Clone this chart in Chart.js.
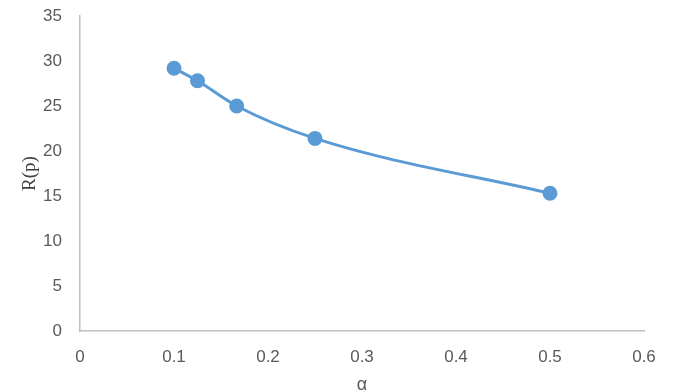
<!DOCTYPE html>
<html>
<head>
  <meta charset="UTF-8" />
  <title>R(p) vs α</title>
  <style>html, body { margin: 0; padding: 0; background: #fff; } #wrap { width: 675px; height: 390px; }</style>
  <script src="https://cdn.jsdelivr.net/npm/chart.js"></script>
</head>
<body>
  <div id="wrap"><canvas id="chart" width="675" height="390"></canvas></div>
  <script>
    // values
    const alphaValues = [0.1, 0.125, 0.1667, 0.25, 0.5];
    const rValues = [29.2, 27.8, 25.0, 21.4, 15.3];

    const points = alphaValues.map((a, i) => ({ x: a, y: rValues[i] }));
    const tickFont = { family: "'Liberation Sans', 'DejaVu Sans', sans-serif", size: 17 };

    new Chart(document.getElementById("chart"), {
      type: "scatter",
      data: {
        datasets: [{
          data: points,
          showLine: true,
          borderColor: "#5b9bd5",
          backgroundColor: "#5b9bd5",
          borderWidth: 3,
          pointRadius: 6,
          pointHoverRadius: 6,
          cubicInterpolationMode: "monotone"
        }]
      },
      options: {
        responsive: false,
        animation: false,
        layout: { padding: { top: 16, right: 31, left: 0, bottom: 0 } },
        plugins: { legend: { display: false }, tooltip: { enabled: false } },
        scales: {
          x: {
            type: "linear", min: 0, max: 0.6,
            ticks: { stepSize: 0.1, color: "#595959", font: tickFont, padding: 16 },
            grid: { display: false, drawTicks: false },
            border: { color: "#bfbfbf", width: 1.5 },
            title: { display: true, text: "α", color: "#595959", font: { family: tickFont.family, size: 18 }, padding: { top: 0, bottom: -6 } },
            afterFit: s => { s.height = 59; }
          },
          y: {
            min: 0, max: 35,
            ticks: { stepSize: 5, color: "#595959", font: tickFont, padding: 18 },
            grid: { display: false, drawTicks: false },
            border: { color: "#bfbfbf", width: 1.5 },
            title: { display: true, text: "R(p)", color: "#404040", font: { family: "'Liberation Serif', serif", size: 19 }, padding: { top: 19, bottom: 0 } },
            // tick padding also pads the top of the scale; drop it
            afterFit: s => { s.width = 80; s.paddingTop = 0; s.paddingBottom = 0; }
          }
        }
      }
    });
  </script>
</body>
</html>
